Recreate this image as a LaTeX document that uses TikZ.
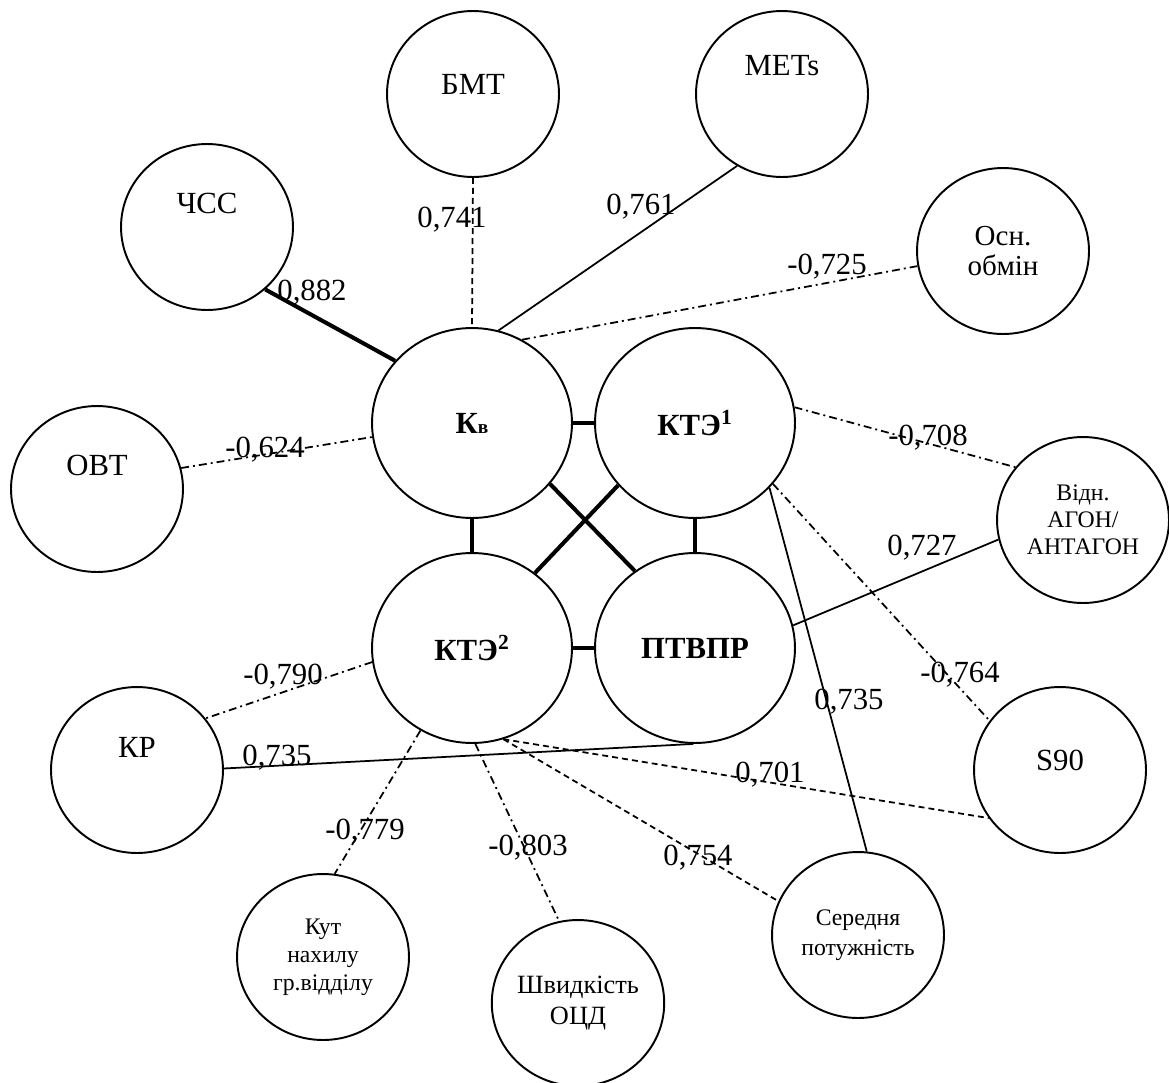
\documentclass[tikz,border=0pt]{standalone}
\usepackage{fontspec}
\setmainfont{Liberation Serif}
\usetikzlibrary{shapes.geometric}

\begin{document}
\begin{tikzpicture}[x=0.02cm, y=-0.02cm,
        kn/.style={ellipse, draw, line width=1.1pt, inner sep=0pt, align=center,
            minimum width=3.44cm, minimum height=3.32cm, font=\fontsize{17.5}{20}\selectfont},
        zk/.style={kn, minimum width=4cm, minimum height=3.8cm, font=\fontsize{17.5}{20}\selectfont\bfseries},
        lift/.style={text height=0pt, text depth=#1},
        wt/.style={font=\fontsize{17.5}{20}\selectfont},
        thk/.style={line width=2.3pt},
        thn/.style={line width=1pt},
        ds/.style={thn, dash pattern=on 3.4pt off 2.3pt},
        dd/.style={thn, dash pattern=on 4.5pt off 2.3pt on 1.1pt off 2.3pt}]
        \useasboundingbox (0,0) rectangle (1169,1082);
        % Zentrale Knoten
        \node[zk] (kv)   at (472,423) {К{\fontsize{11}{11}\selectfont в}};
        \node[zk] (kte1) at (695,423) {КТЭ\textsuperscript{1}};
        \node[zk] (kte2) at (472,648) {КТЭ\textsuperscript{2}};
        \node[zk] (ptv)  at (695,648) {ПТВПР};
        % Aeussere Knoten
        \node[kn, lift=0.55cm] (chss) at (207,227) {ЧСС};
        \node[kn, lift=0cm]    (bmt)  at (473,94)  {БМТ};
        \node[kn, lift=0.75cm] (mets) at (782,94)  {METs};
        \node[kn, font=\fontsize{16.5}{17}\selectfont] (osn) at (1003,251) {Осн.\\обмін};
        \node[kn, lift=0.55cm] (ovt)  at (97,489)  {ОВТ};
        \node[kn, font=\fontsize{13.5}{15.3}\selectfont] (vidn) at (1083,520) {Відн.\\АГОН/\\АНТАГОН};
        \node[kn, lift=0cm]    (s90)  at (1060,770) {S90};
        \node[kn, font=\fontsize{13.5}{17}\selectfont] (ser) at (858,935) {Середня\\потужність};
        \node[kn, lift=0.51cm] (kr)   at (137,770) {КР};
        \node[kn, font=\fontsize{13.5}{16}\selectfont] (kut) at (323,957) {Кут\\нахилу\\гр.відділу};
        \node[kn, font=\fontsize{15}{18}\selectfont] (shv) at (578,1003) {Швидкість\\ОЦД};
        % dicke Verbindungen
        \draw[thk] (chss.-47) -- (kv.141);
        \foreach \a/\b in {kv/kte1, kv/kte2, kte1/ptv, kte2/ptv} {\draw[thk] (\a) -- (\b);}
        \draw[thk] (kv.-38) -- (ptv.128);
        \draw[thk] (kte1.219) -- (kte2.50);
        % Korrelationen
        \draw[ds]  (bmt.south) -- (kv.north);
        \draw[thn] (mets.-122) -- (kv.74);
        \draw[dd]  (kv.59) -- (osn.190);
        \draw[dd]  (ovt.14) -- (kv.188);
        \draw[dd]  (kte1.9) -- (vidn.142);
        \draw[thn] (ptv.13) -- (vidn.193);
        \draw[dd]  (kte1.-38) -- (s90.145);
        \draw[thn] (kte1.-41) -- (ser.84);
        \draw[dd]  (kte2.188) -- (kr.37);
        \draw[thn] (ptv.-91) -- (kr.1);
        \draw[dd]  (kte2.-122) -- (kut.82);
        \draw[dd]  (kte2.-88) -- (shv.103);
        \draw[ds]  (kte2.-71) -- (s90.214);
        \draw[ds]  (kte2.-71) -- (ser.157);
        % Koeffizienten
        \node[wt] (rchss)  at (312,293) {0,882};
        \node[wt] (rbmt)   at (452,220) {0,741};
        \node[wt] (rmets)  at (641,207) {0,761};
        \node[wt] (rosn)   at (827,267) {-0,725};
        \node[wt] (rovt)   at (265,450) {-0,624};
        \node[wt] (rvidn1) at (928,438) {-0,708};
        \node[wt] (rvidn2) at (922,548) {0,727};
        \node[wt] (rs901)  at (960,675) {-0,764};
        \node[wt] (rser1)  at (849,702) {0,735};
        \node[wt] (rs902)  at (770,775) {0,701};
        \node[wt] (rser2)  at (698,858) {0,754};
        \node[wt] (rkr1)   at (283,677) {-0,790};
        \node[wt] (rkr2)   at (277,758) {0,735};
        \node[wt] (rkut)   at (365,832) {-0,779};
        \node[wt] (rshv)   at (528,848) {-0,803};
    \end{tikzpicture}
\end{document}
